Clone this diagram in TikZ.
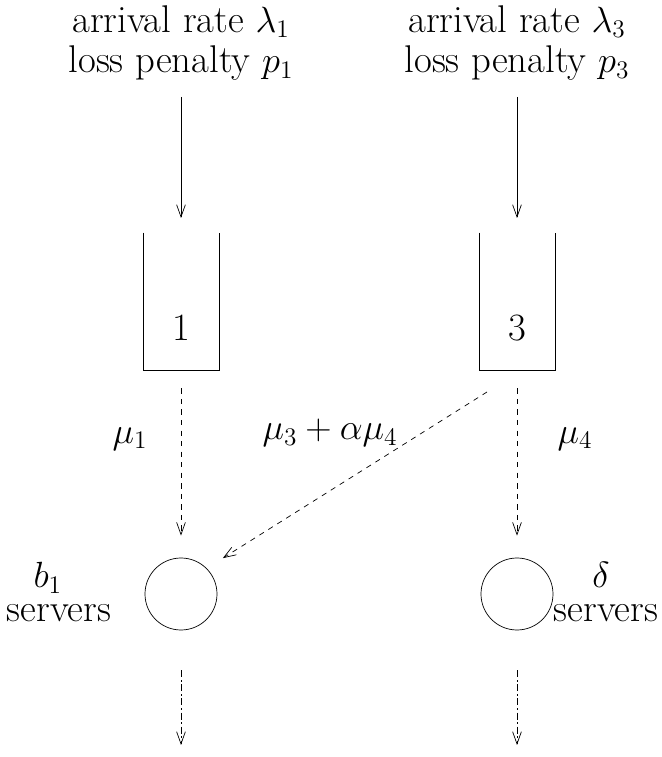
\documentclass[tikz,border=0pt]{standalone}
\usepackage{tikz}
\usetikzlibrary{arrows.meta}

\begin{document}
\begin{tikzpicture}[font=\fontsize{22}{23}\selectfont,
  >={Straight Barb[length=7pt,width=5pt]},
  queue/.style={minimum width=1.5cm,minimum height=2.74cm,inner sep=0pt},
  server/.style={circle,draw,minimum size=1.44cm,inner sep=0pt},
  srvlabel/.style={align=center,inner sep=0pt,font=\fontsize{22}{19}\selectfont}]
  \useasboundingbox (0,0) rectangle (13.24,15.14);
  % arrivals
  \node[align=center] (in1) at (3.62,14.28) {arrival rate $\lambda_1$\\loss penalty $p_1$};
  \node[align=center] (in3) at (10.34,14.28) {arrival rate $\lambda_3$\\loss penalty $p_3$};
  % queues
  \node[queue] (q1) at (3.62,9.11) {};
  \node[queue] (q3) at (10.34,9.11) {};
  \draw (q1.north west) -- (q1.south west) -- (q1.south east) -- (q1.north east);
  \draw (q3.north west) -- (q3.south west) -- (q3.south east) -- (q3.north east);
  \node (n1) at (3.62,8.58) {1};
  \node (n3) at (10.34,8.58) {3};
  \draw[->] (3.62,13.20) -- (3.62,10.78);
  \draw[->] (10.34,13.20) -- (10.34,10.78);
  % servers
  \node[server] (s1) at (3.62,3.26) {};
  \node[server] (s3) at (10.34,3.26) {};
  \node[srvlabel] (b1) at (1.18,3.30) {\hspace*{-0.45cm}$b_1$\\servers};
  \node[srvlabel] (dl) at (12.12,3.30) {\hspace*{-0.2cm}$\delta$\\servers};
  % service rates
  \draw[dashed,->,shorten <=0.36cm,shorten >=0.44cm] (q1.south) -- (s1.north);
  \draw[dashed,->,shorten <=0.36cm,shorten >=0.44cm] (q3.south) -- (s3.north);
  \coordinate (d3) at (9.74,7.30);
  \draw[dashed,->,shorten >=0.38cm] (d3) -- (s1.45);
  \node (m1) at (2.60,6.36) {$\mu_1$};
  \node (m34) at (6.60,6.48) {$\mu_3+\alpha\mu_4$};
  \node (m4) at (11.50,6.36) {$\mu_4$};
  % departures
  \coordinate (o1) at (3.62,0.24);
  \coordinate (o3) at (10.34,0.24);
  \draw[dash pattern=on 4pt off 1.5pt on 1pt off 1.5pt,->,shorten <=0.8cm] (s1.south) -- (o1);
  \draw[dash pattern=on 4pt off 1.5pt on 1pt off 1.5pt,->,shorten <=0.8cm] (s3.south) -- (o3);
\end{tikzpicture}
\end{document}
